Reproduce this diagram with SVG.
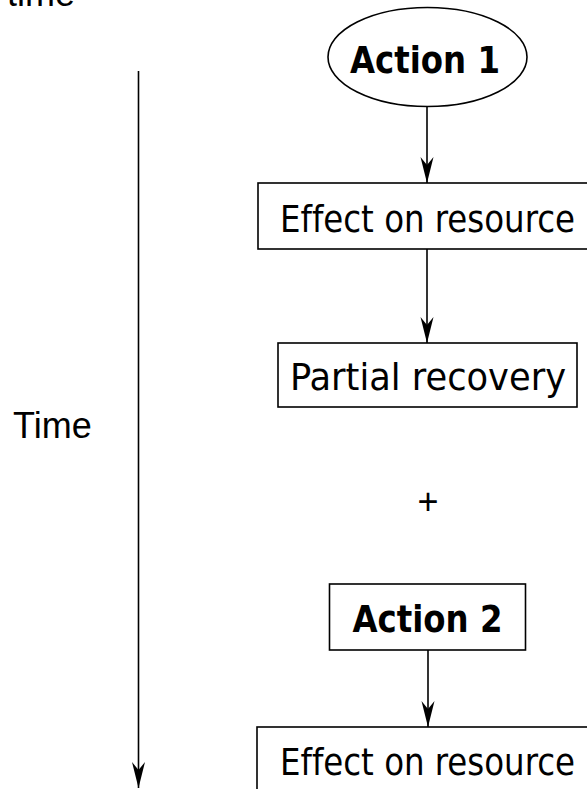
<svg xmlns="http://www.w3.org/2000/svg" width="587" height="789" viewBox="0 0 587 789">
<style>
  .shape { fill: #fff; stroke: #000; stroke-width: 1.6; }
  .lbl { font-family: "DejaVu Sans Condensed", "DejaVu Sans", sans-serif; font-size: 38px; fill: #000; text-anchor: middle; font-variant-ligatures: none; }
  .bold { font-weight: bold; }
  .plain { font-family: "Liberation Sans", Arial, sans-serif; font-size: 36px; fill: #000; }
  .conn { stroke: #000; stroke-width: 1.6; fill: none; }
</style>
<defs>
  <marker id="arr" markerUnits="userSpaceOnUse" markerWidth="30" markerHeight="16" viewBox="-27 -8 28 16" refX="0" refY="0" orient="auto">
    <path d="M0,0 L-26,-6.5 L-18,0 L-26,6.5 Z" fill="#000"/>
  </marker>
</defs>
<rect width="587" height="789" fill="#fff"/>
<text class="plain" x="7" y="6">time</text>
<text class="plain" x="13" y="438">Time</text>
<g id="connectors">
  <line class="conn" x1="138.5" y1="71" x2="138.5" y2="788" marker-end="url(#arr)"/>
  <line class="conn" x1="427" y1="106" x2="427" y2="183" marker-end="url(#arr)"/>
  <line class="conn" x1="427" y1="249" x2="427" y2="343" marker-end="url(#arr)"/>
  <line class="conn" x1="428" y1="650" x2="428" y2="727" marker-end="url(#arr)"/>
</g>
<g id="action1">
  <ellipse class="shape" cx="427.5" cy="57" rx="99.5" ry="49.5"/>
  <text class="lbl bold" x="425" y="73" textLength="150" lengthAdjust="spacingAndGlyphs">Action 1</text>
</g>
<g id="effect1">
  <rect class="shape" x="258" y="183" width="340" height="66"/>
  <text class="lbl" x="427.5" y="232" textLength="295" lengthAdjust="spacingAndGlyphs">Effect on resource</text>
</g>
<g id="partial">
  <rect class="shape" x="278" y="343" width="299" height="64"/>
  <text class="lbl" x="428" y="390" textLength="276" lengthAdjust="spacingAndGlyphs">Partial recovery</text>
</g>
<g id="plus">
  <text class="plain" x="428" y="514" text-anchor="middle">+</text>
</g>
<g id="action2">
  <rect class="shape" x="329.5" y="584" width="196" height="66"/>
  <text class="lbl bold" x="427.5" y="632" textLength="150" lengthAdjust="spacingAndGlyphs">Action 2</text>
</g>
<g id="effect2">
  <rect class="shape" x="257" y="727" width="340" height="80"/>
  <text class="lbl" x="427.5" y="775" textLength="295" lengthAdjust="spacingAndGlyphs">Effect on resource</text>
</g>
</svg>
